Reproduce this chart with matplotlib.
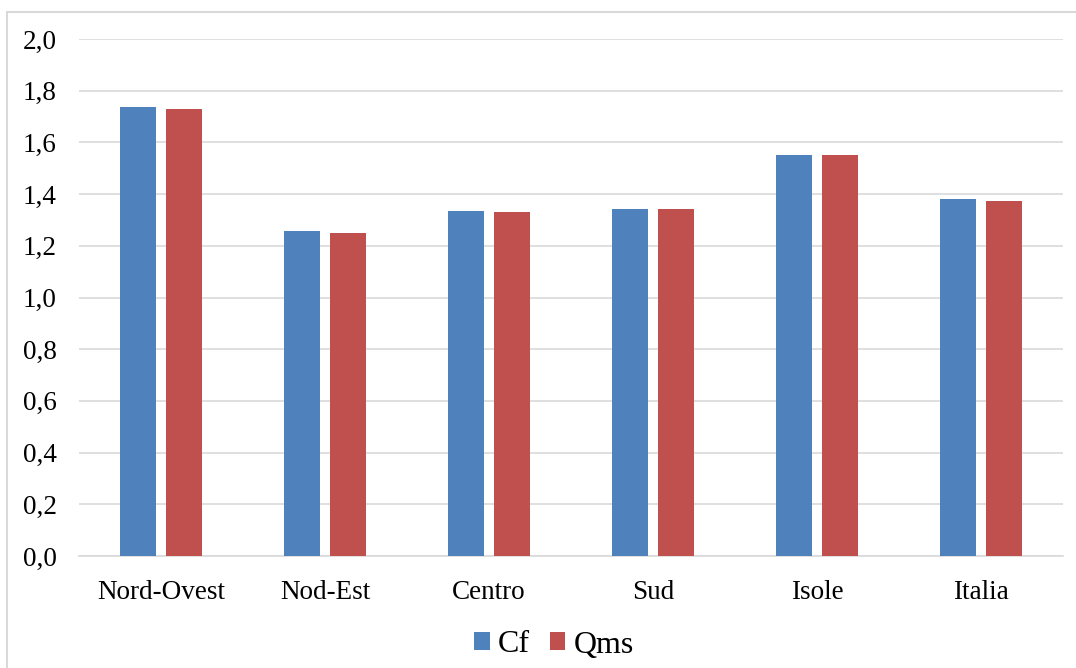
import matplotlib
matplotlib.use("Agg")
import matplotlib.pyplot as plt
from matplotlib.patches import Rectangle
import numpy as np

categories = ["Nord-Ovest", "Nod-Est", "Centro", "Sud", "Isole", "Italia"]
cf = [1.736, 1.257, 1.335, 1.342, 1.551, 1.381]
qms = [1.728, 1.250, 1.331, 1.342, 1.551, 1.373]
series_names = ["Cf", "Qms"]
yticks = [0.0, 0.2, 0.4, 0.6, 0.8, 1.0, 1.2, 1.4, 1.6, 1.8, 2.0]

plt.rcParams['font.family'] = ['Liberation Serif', 'DejaVu Serif']

W, H = 1076, 668
fig = plt.figure(figsize=(W / 100, H / 100), dpi=100)
ax = fig.add_axes([79 / W, 1 - 556 / H, (1063 - 79) / W, (556 - 39) / H])

x = np.arange(len(categories))
bw = 0.22
off = 0.14
ax.bar(x - off, cf, bw, color="#4F81BD", label=series_names[0], zorder=3)
ax.bar(x + off, qms, bw, color="#C0504D", label=series_names[1], zorder=3)

ax.set_xlim(-0.5, len(categories) - 0.5)
ax.set_ylim(0, 2.0)
ax.set_yticks(yticks)
ax.set_yticklabels([f"{v:.1f}".replace(".", ",") for v in yticks], fontsize=19.5)
ax.set_xticks(x)
ax.set_xticklabels(categories, fontsize=19.5)
ax.tick_params(axis='both', length=0)
ax.tick_params(axis='y', pad=16)
ax.tick_params(axis='x', pad=17)
ax.grid(axis='y', color="#D9D9D9", linewidth=1.2, zorder=0)
for s in ["left", "right", "top"]:
    ax.spines[s].set_visible(False)
ax.spines["bottom"].set_color("#D9D9D9")
ax.spines["bottom"].set_linewidth(1.2)

leg = fig.legend(loc="center", bbox_to_anchor=(554 / W, 1 - 645 / H), ncol=2,
                 frameon=False, fontsize=23, handlelength=0.5, handleheight=0.5,
                 handletextpad=0.25, columnspacing=0.6)

# outer frame (cropped on right and bottom)
fig.patches.append(Rectangle((7 / W, -0.1), 1.2, 1 - 12 / H + 0.1,
                             transform=fig.transFigure, fill=False,
                             edgecolor="#D9D9D9", linewidth=1.5, zorder=0))

fig.savefig("out.png", dpi=100)
